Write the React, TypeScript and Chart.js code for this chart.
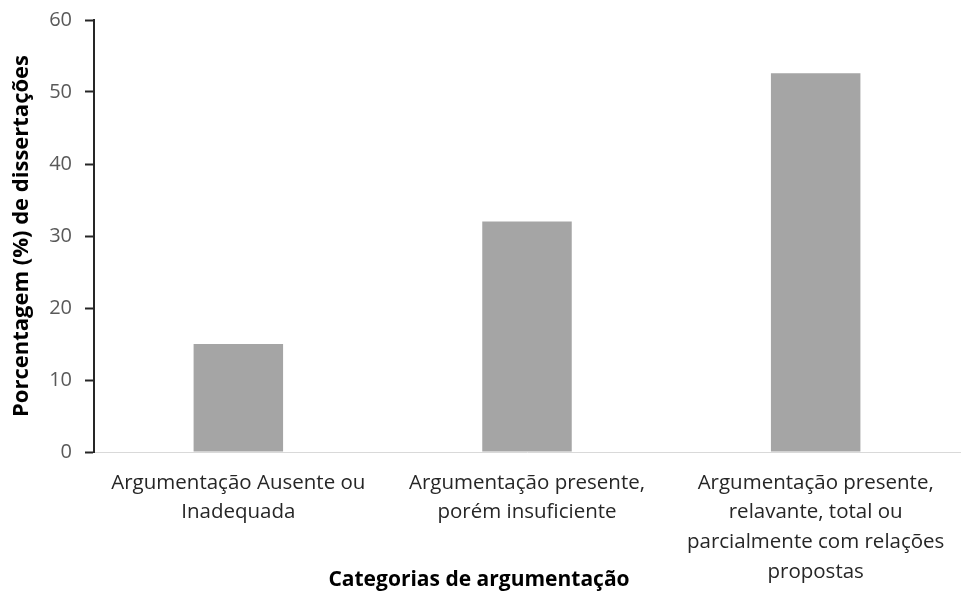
import React, { useEffect, useRef } from "react";
import { Chart, registerables } from "chart.js";

Chart.register(...registerables);

const categories: string[][] = [
  ["Argumentação Ausente ou", "Inadequada"],
  ["Argumentação presente,", "porém insuficiente"],
  ["Argumentação presente,", "relavante, total ou", "parcialmente com relações", "propostas"],
];
const percentages: number[] = [15, 32, 52.6];
const yTicks: number[] = [0, 10, 20, 30, 40, 50, 60];

const FONT = "'Open Sans', sans-serif";

// Draws the x-axis caption below the category labels
const xCaption = {
  id: "xCaption",
  afterDraw(chart: Chart) {
    const { ctx, chartArea } = chart;
    ctx.save();
    ctx.font = `bold 21px ${FONT}`;
    ctx.fillStyle = "#000000";
    ctx.textAlign = "center";
    ctx.textBaseline = "middle";
    ctx.fillText("Categorias de argumentação", chartArea.left + 385, chartArea.bottom + 128);
    ctx.restore();
  },
};

export default function App() {
  const ref = useRef<HTMLCanvasElement | null>(null);

  useEffect(() => {
    if (!ref.current) return;
    const chart = new Chart(ref.current, {
      type: "bar",
      data: {
        labels: categories,
        datasets: [
          {
            data: percentages,
            backgroundColor: "#a5a5a5",
            categoryPercentage: 1,
            barPercentage: 0.31,
          },
        ],
      },
      options: {
        animation: false,
        responsive: true,
        maintainAspectRatio: false,
        layout: { padding: { top: 20, right: 6, left: 0, bottom: 0 } },
        plugins: {
          legend: { display: false },
          tooltip: { enabled: false },
        },
        scales: {
          x: {
            grid: { display: false },
            border: { display: true, color: "#d9d9d9", width: 1 },
            ticks: {
              maxRotation: 0,
              autoSkip: false,
              padding: 8,
              color: "#262626",
              font: { family: FONT, size: 20.5, lineHeight: 1.45 },
            },
            afterFit(scale: any) {
              scale.height = 144;
            },
          },
          y: {
            min: 0,
            max: 60,
            afterBuildTicks(scale: any) {
              scale.ticks = yTicks.map((v) => ({ value: v }));
            },
            grid: {
              drawOnChartArea: false,
              drawTicks: true,
              tickLength: 9,
              tickWidth: 2,
              tickColor: "#262626",
            },
            border: { display: true, color: "#262626", width: 2 },
            ticks: {
              padding: 13,
              color: "#595959",
              font: { family: FONT, size: 20 },
            },
            title: {
              display: true,
              text: "Porcentagem (%) de dissertações",
              color: "#000000",
              font: { family: FONT, size: 22, weight: "bold" },
              padding: { top: 9, bottom: 0 },
            },
            afterFit(scale: any) {
              scale.width = 94;
              scale.paddingTop = 0;
              scale.paddingBottom = 0;
            },
          },
        },
      },
      plugins: [xCaption],
    });
    return () => chart.destroy();
  }, []);

  return (
    <div style={{ position: "fixed", inset: 0, background: "#ffffff" }}>
      <canvas ref={ref} />
    </div>
  );
}
